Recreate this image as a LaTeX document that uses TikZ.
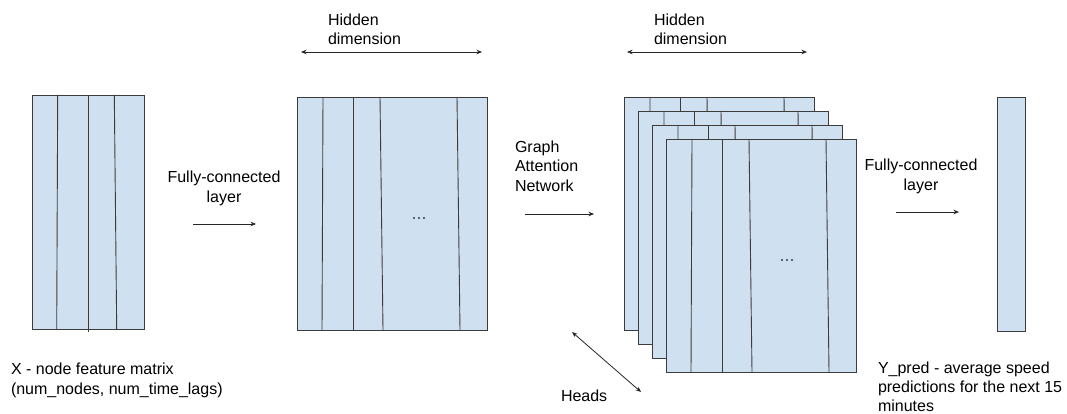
\documentclass[tikz,border=0pt]{standalone}
\usepackage{fontspec}
\setmainfont{Liberation Sans}
\usetikzlibrary{arrows.meta,calc}
\definecolor{cellblue}{HTML}{CFE0F1}
\definecolor{rule}{HTML}{3C3C3C}

% column separators of a hidden-dimension matrix (offsets from its left edge)
\newcommand\hiddencols[1]{%
  \draw[col] ($(#1.north west)+(26,0)$) -- ($(#1.south west)+(25,0)$);
  \draw[col] ($(#1.north west)+(56,0)$) -- ($(#1.south west)+(56,0)$);
  \draw[col] ($(#1.north west)+(83,0)$) -- ($(#1.south west)+(86,0)$);
  \draw[col] ($(#1.north west)+(160,0)$) -- ($(#1.south west)+(163,0)$);
}
% three dots marking further columns
\newcommand\moredots[1]{%
  \foreach \dx in {-5,0,5} \fill[rule] ($(#1)+(\dx,0)$) circle[radius=1.1];
}

\begin{document}
\begin{tikzpicture}[x=1pt,y=-1pt,
  mat/.style={draw=rule,line width=0.9pt,fill=cellblue,inner sep=0pt,outer sep=0pt,anchor=north west},
  hid/.style={mat,minimum width=190pt,minimum height=233pt},
  col/.style={draw=rule,line width=0.9pt},
  flow/.style={draw=black!85,line width=0.8pt,-{Stealth[length=5.5pt,width=4.5pt]}},
  span/.style={draw=black!85,line width=0.8pt,{Stealth[length=5.5pt,width=4.5pt]}-{Stealth[length=5.5pt,width=4.5pt]}},
  % multi-line labels: the given point is the baseline of the last line
  lbl/.style={font=\fontsize{16}{19.5}\selectfont,inner sep=0pt,outer sep=0pt,align=left,anchor=base west},
  clbl/.style={font=\fontsize{16}{20}\selectfont,inner sep=0pt,outer sep=0pt,align=center,anchor=base},
  ]
\useasboundingbox (0,0) rectangle (1067,414);

% input feature matrix
\node[mat,minimum width=112pt,minimum height=234pt] (xin) at (32,95) {};
\draw[col] ($(xin.north west)+(25.7,0)$) -- ($(xin.south west)+(24.7,0)$);
\draw[col] ($(xin.north west)+(56.3,0)$) -- ($(xin.south west)+(56.3,3)$);
\draw[col] ($(xin.north west)+(82.3,0)$) -- ($(xin.south west)+(84.7,0)$);
\node[lbl] (xlbl) at (11,394) {X - node feature matrix\\(num\_nodes, num\_time\_lags)};

% first fully-connected layer
\node[clbl] (fc1) at (224,202) {Fully-connected\\layer};
\coordinate (fc1a) at (193,224);
\coordinate (fc1b) at (256,224);
\draw[flow] (fc1a) -- (fc1b);

% hidden representation
\node[hid] (hmat) at (297,97) {};
\hiddencols{hmat}
\coordinate (hdots) at (419,218);
\moredots{hdots}
\node[lbl] (hd1) at (328,45) {Hidden\\dimension};
\coordinate (hd1a) at (301,52);
\coordinate (hd1b) at (482,52);
\draw[span] (hd1a) -- (hd1b);

% graph attention network
\node[lbl] (gat) at (515,191) {Graph\\Attention\\Network};
\coordinate (gata) at (525,214);
\coordinate (gatb) at (594,214);
\draw[flow] (gata) -- (gatb);

% attention heads, back to front
\node[hid] (head1) at (624,97) {};
\hiddencols{head1}
\node[hid] (head2) at (638,111) {};
\hiddencols{head2}
\node[hid] (head3) at (652,125) {};
\hiddencols{head3}
\node[hid] (head4) at (666,139) {};
\hiddencols{head4}
\coordinate (gdots) at (787,260);
\moredots{gdots}
\node[lbl] (hd2) at (654,45) {Hidden\\dimension};
\coordinate (hd2a) at (627,52);
\coordinate (hd2b) at (807,52);
\draw[span] (hd2a) -- (hd2b);

\coordinate (hda) at (572,332);
\coordinate (hdb) at (641,392);
\draw[span] (hda) -- (hdb);
\node[lbl] (heads) at (561,401) {Heads};

% second fully-connected layer
\node[clbl] (fc2) at (921,190) {Fully-connected\\layer};
\coordinate (fc2a) at (896,212);
\coordinate (fc2b) at (959,212);
\draw[flow] (fc2a) -- (fc2b);

% prediction vector
\node[mat,minimum width=28pt,minimum height=234pt] (yout) at (997,97) {};
\node[lbl,font=\fontsize{16}{19}\selectfont] (ylbl) at (878,411) {Y\_pred - average speed\\predictions for the next 15\\minutes};
\end{tikzpicture}
\end{document}
